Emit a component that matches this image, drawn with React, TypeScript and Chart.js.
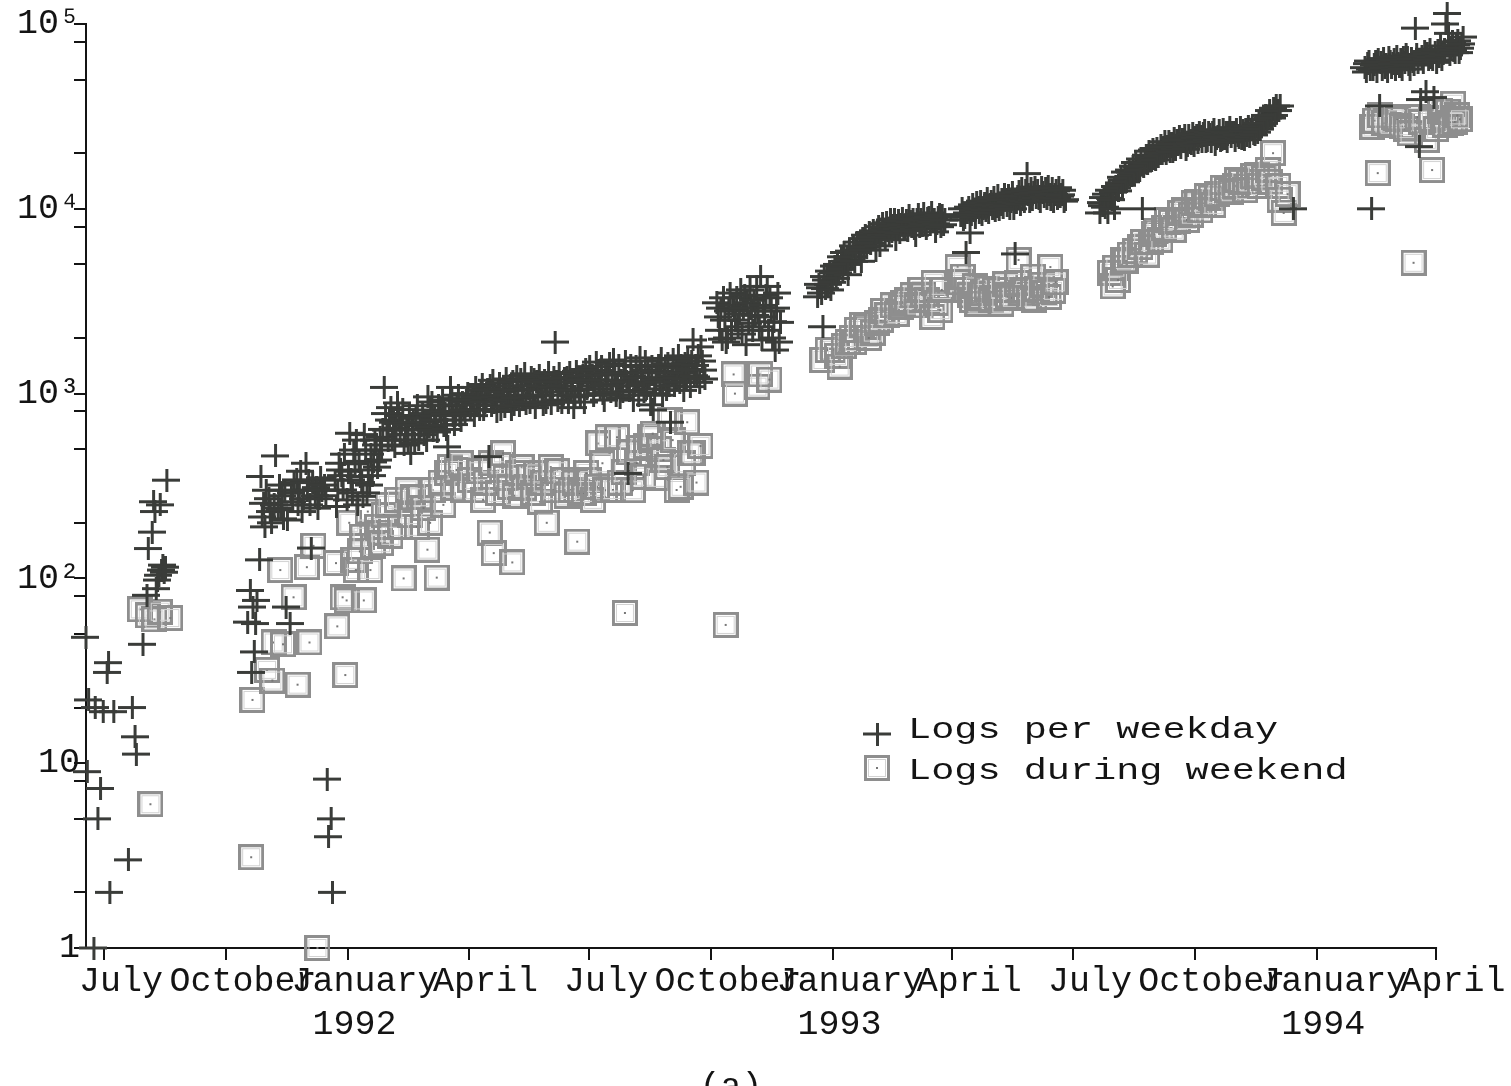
import React, { useEffect, useRef } from "react";
import { Chart, registerables } from "chart.js";

Chart.register(...registerables);

// x values: days counted from 1 July 1991
const tickDays = [0, 92, 184, 275, 366, 458, 550, 640, 731, 823, 915, 1005];
const tickMonths = ["July", "October", "January", "April", "July", "October", "January", "April", "July", "October", "January", "April"];
const tickYears = ["", "", "1992", "", "", "", "1993", "", "", "", "1994", ""];

const yTickValues = [1, 2, 5, 8, 10, 20, 50, 80, 100, 200, 500, 800, 1000, 2000, 5000, 8000, 10000, 20000, 50000, 80000, 100000];
const yTickLabels: Record<number, string> = { 1: "1", 10: "10", 100: "10²", 1000: "10³", 10000: "10⁴", 100000: "10⁵" };

const seriesLabels = ["Logs per weekday", "Logs during weekend"];

// [day, logs]
const weekday1991: [number, number][] = [
  [-14, 48], [-13, 9], [-12, 22], [-8, 1], [-7, 20], [-5, 5], [-3, 7.3], [-1, 19], [2, 31], [3, 35], [4, 2], [7, 19],
  [18, 3], [21, 20], [23, 13.9], [24, 11.2], [29, 44], [32, 81], [33, 145], [36, 178], [37, 260], [38, 230], [39, 88],
  [40, 98], [41, 104], [42, 250], [43, 111], [44, 118], [45, 108], [46, 115], [47, 340],
  [108, 58], [110, 86], [111, 31], [112, 70], [113, 40], [114, 57], [115, 76], [117, 126], [118, 356], [119, 215],
  [120, 255], [121, 190], [122, 300], [124, 270], [125, 230], [126, 200], [128, 250], [129, 460], [131, 240], [132, 320],
  [133, 235], [134, 280], [135, 210], [136, 300], [137, 70], [138, 207], [140, 57], [141, 290], [142, 260], [143, 330],
  [145, 341], [146, 250], [147, 300], [148, 380], [149, 230], [150, 270], [152, 420], [153, 300], [154, 340], [155, 250],
  [156, 146], [157, 330], [159, 280], [160, 310], [161, 240], [162, 270], [163, 350], [164, 300], [166, 320], [167, 280],
  [168, 8.2], [169, 4.0], [171, 5.0], [172, 2.0], [174, 340], [175, 245], [176, 300], [177, 420], [178, 386], [179, 360],
  [180, 301], [181, 470], [183, 266],
];

const weekday1992: [number, number][] = [
  [184, 380], [185, 610], [186, 341], [187, 290], [188, 495], [189, 417], [190, 560], [191, 250], [192, 430], [193, 356],
  [194, 330], [195, 278], [196, 600], [197, 495], [198, 290], [199, 386], [200, 320], [201, 470], [202, 360], [203, 427],
  [204, 560], [205, 527], [206, 400], [207, 437], [208, 580], [209, 495], [210, 640],
  [211, 1080], [212, 780], [213, 635], [214, 560], [215, 719], [216, 840], [217, 561], [218, 700], [219, 520], [220, 650],
  [221, 890], [222, 760], [223, 600], [224, 690], [225, 820], [226, 527], [227, 600], [228, 675], [229, 560], [230, 760],
  [231, 475], [232, 635], [233, 700], [234, 540], [235, 735], [236, 860], [237, 561], [238, 640], [239, 675], [240, 780],
  [241, 600], [242, 700], [243, 560], [244, 960], [245, 660], [246, 815], [247, 900], [248, 635], [249, 760], [250, 719],
  [251, 620], [252, 860], [253, 795], [254, 720], [255, 920], [256, 675], [257, 780], [258, 640], [259, 515], [260, 860],
  [261, 1080], [262, 940], [263, 760], [264, 680], [265, 800], [266, 870], [267, 980], [268, 760], [269, 719], [270, 900],
  [271, 815], [272, 780], [273, 923], [274, 1000],
  [276, 815], [277, 920], [278, 980], [279, 760], [280, 1080], [281, 870], [282, 960], [283, 820], [284, 1040], [285, 1120],
  [286, 815], [287, 900], [288, 950], [289, 1050], [290, 456], [291, 1100], [292, 860], [293, 1180], [294, 900], [295, 960],
  [296, 800], [297, 1020], [298, 1140], [299, 815], [300, 930], [301, 1060], [302, 850], [303, 1200], [304, 923], [305, 980],
  [306, 1100], [307, 820], [308, 1160], [309, 870], [310, 950], [311, 1240], [312, 1040], [313, 860], [314, 1190], [315, 1050],
  [316, 950], [317, 1280], [318, 880], [319, 1100], [320, 1060], [321, 900], [322, 1220], [323, 960], [324, 1190], [325, 840],
  [326, 1160], [327, 980], [328, 1260], [329, 1100], [330, 980], [331, 870], [332, 1180], [333, 900], [334, 1150], [335, 1300],
  [336, 1020], [337, 880], [338, 1080], [339, 1220], [340, 1900], [341, 1160], [342, 923], [343, 1280], [344, 1100], [345, 900],
  [346, 980], [347, 1200], [348, 1060], [349, 1220], [350, 900], [351, 1300], [352, 1040], [353, 1150], [354, 840], [355, 960],
  [356, 1320], [357, 1150], [358, 1050], [359, 980], [360, 1180], [361, 1250], [362, 900], [363, 1350], [364, 1060], [365, 1150],
  [366, 1400], [367, 1190], [368, 1260], [369, 980], [370, 1100], [371, 1480], [372, 1340], [373, 1180], [374, 1060], [375, 1400],
  [376, 1000], [377, 923], [378, 1300], [379, 1120], [380, 1260], [381, 1450], [382, 1020], [383, 1180], [384, 1520], [385, 1280],
  [386, 980], [387, 1100], [388, 1420], [389, 950], [390, 1180], [391, 1020], [392, 1300], [393, 1500], [394, 1160], [395, 370],
  [396, 1040], [397, 1420], [398, 1250], [399, 923], [400, 1100], [401, 1400], [402, 1220], [403, 980], [404, 1560], [405, 1300],
  [406, 1120], [407, 1020], [408, 1500], [409, 1060], [410, 1340], [411, 1220], [412, 870], [413, 1400], [414, 815], [415, 1000],
  [416, 1190], [417, 1320], [418, 1420], [419, 1150], [420, 1550], [421, 980], [422, 1200], [423, 1300], [424, 1050], [425, 1450],
  [426, 1100], [427, 700], [428, 1250], [429, 1520], [430, 1100], [431, 1380], [432, 1220], [433, 1600], [434, 1150], [435, 1420],
  [436, 1300], [437, 1040], [438, 1450], [439, 1200], [440, 1560], [441, 1350], [442, 1090], [443, 1500], [444, 1950], [445, 1250],
  [446, 1420], [447, 1230], [448, 1600], [449, 1150], [450, 1790], [451, 1500], [452, 1340], [453, 1200],
  [462, 3100], [463, 2600], [464, 2200], [465, 2900], [466, 1970], [467, 3300], [468, 2500], [469, 1900], [470, 2000], [471, 2800],
  [472, 3500], [473, 2200], [474, 3000], [475, 2830], [476, 2500], [477, 3300], [478, 2300], [479, 2700], [480, 3640], [481, 2100],
  [482, 2900], [483, 3400], [484, 1840], [485, 3100], [486, 2400], [487, 3640], [488, 2900], [489, 2200], [490, 3200], [491, 2650],
  [492, 3800], [493, 2800], [494, 2300], [495, 4300], [496, 1950], [497, 3000], [498, 2600], [499, 3400], [500, 3800], [501, 2200],
  [502, 3300], [503, 2800], [504, 2000], [505, 2450], [506, 1720], [507, 2900], [508, 3500], [509, 1900], [510, 2430],
  [538, 3340], [539, 3900], [540, 3740], [541, 3500], [542, 2300], [543, 4300], [544, 3700], [545, 4120], [546, 3900], [547, 4600],
  [548, 3640], [549, 4000],
];

const weekday1993: [number, number][] = [
  [550, 4500], [551, 4900], [552, 4200], [553, 5000], [554, 4500], [555, 4800], [556, 5500], [557, 4700], [558, 5800], [559, 5200],
  [560, 5000], [561, 4400], [562, 5900], [563, 5290], [564, 5500], [565, 6300], [566, 5200], [567, 5980], [568, 6600], [569, 5800],
  [570, 6140], [571, 5200], [572, 6900], [573, 6000], [574, 7200], [575, 6200], [576, 6570], [577, 7400], [578, 6500], [579, 7000],
  [580, 7600], [581, 6800], [582, 5980], [583, 7500], [584, 8000], [585, 6300], [586, 7200], [587, 8300], [588, 7700], [589, 7000],
  [590, 8400], [591, 7600], [592, 7200], [593, 8700], [594, 7500], [595, 8100], [596, 8800], [597, 6800], [598, 7800], [599, 8600],
  [600, 7400], [601, 8200], [602, 8900], [603, 7900], [604, 7700], [605, 8600], [606, 7600], [607, 9200], [608, 8500], [609, 8000],
  [610, 8800], [611, 7800], [612, 7200], [613, 8700], [614, 9300], [615, 8000], [616, 8700], [617, 8100], [618, 9400], [619, 8300],
  [620, 7800], [621, 8900], [622, 9000], [623, 8200], [624, 9500], [625, 8500], [626, 8800], [627, 7500], [628, 8300], [629, 9000],
  [630, 9300], [631, 8000], [632, 9200], [633, 8200], [634, 8700],
  [646, 9200], [647, 10000], [648, 8700], [649, 9000], [650, 5800], [651, 9500], [652, 10200], [653, 7400], [654, 9300], [655, 10500],
  [656, 9800], [657, 9000], [658, 10800], [659, 10100], [660, 9600], [661, 11000], [662, 9300], [663, 10000], [664, 10700], [665, 9800],
  [666, 11300], [667, 9500], [668, 10500], [669, 11000], [670, 10000], [671, 11500], [672, 9800], [673, 10300], [674, 11800], [675, 9900],
  [676, 10500], [677, 11200], [678, 10200], [679, 12000], [680, 11200], [681, 10400], [682, 11800], [683, 10000], [684, 10900], [685, 12200],
  [686, 10000], [687, 5700], [688, 10800], [689, 11700], [690, 12400], [691, 10600], [692, 12800], [693, 11200], [694, 11000], [695, 12500],
  [696, 15500], [697, 12000], [698, 10900], [699, 12900], [700, 11200], [701, 12200], [702, 13100], [703, 11500], [704, 12600], [705, 11400],
  [706, 11000], [707, 13000], [708, 12300], [709, 11600], [710, 12800], [711, 11300], [712, 13200], [713, 11900], [714, 11200], [715, 12900],
  [716, 11000], [717, 12000], [718, 12500], [719, 11400], [720, 13000], [721, 11700], [722, 11900], [723, 12600], [724, 11000], [725, 11200],
  [751, 9500], [752, 10800], [753, 10400], [754, 11500], [755, 10200], [756, 12000], [757, 9500], [758, 12600], [759, 11400], [760, 11200],
  [761, 12300], [762, 10000], [763, 13200], [764, 13000], [765, 12500], [766, 13800], [767, 14800], [768, 13400], [769, 14300], [770, 15800],
  [771, 14000], [772, 14700], [773, 16200], [774, 15800], [775, 15200], [776, 17000], [777, 15600], [778, 17800], [779, 16800], [780, 16000],
  [781, 16200], [782, 18600], [783, 10000], [784, 17000], [785, 17900], [786, 19500], [787, 17600], [788, 20500], [789, 19000], [790, 18200],
  [791, 20800], [792, 18800], [793, 18400], [794, 21200], [795, 19200], [796, 20000], [797, 22000], [798, 19800], [799, 21500], [800, 23000],
  [801, 20000], [802, 21600], [803, 23000], [804, 20500], [805, 22500], [806, 20400], [807, 24000], [808, 21000], [809, 23500], [810, 22300],
  [811, 24500], [812, 21500], [813, 23800], [814, 23600], [815, 24800], [816, 21000], [817, 22000], [818, 25000], [819, 22800], [820, 22500],
  [821, 25500], [822, 22000], [823, 24200], [824, 25000], [825, 22800], [826, 26000], [827, 24500], [828, 23000], [829, 25500], [830, 26500],
  [831, 23100], [832, 23500], [833, 26000], [834, 25100], [835, 23000], [836, 25800], [837, 26800], [838, 22300], [839, 24000], [840, 24500],
  [841, 26500], [842, 23500], [843, 23600], [844, 27000], [845, 24000], [846, 26000], [847, 23000], [848, 25800], [849, 27500], [850, 24500],
  [851, 26000], [852, 25800], [853, 23500], [854, 27000], [855, 25000], [856, 24200], [857, 27500], [858, 24000], [859, 26500], [860, 23600],
  [861, 27000], [862, 25000], [863, 28000], [864, 24500], [865, 27000], [866, 27500], [867, 25500], [868, 25100], [869, 28000], [870, 26000],
  [871, 29000], [872, 27000], [873, 30500], [874, 28700], [875, 29000], [876, 32000], [877, 30300], [878, 31000], [879, 34000], [880, 31500],
  [881, 31000], [882, 35000], [883, 32000], [884, 36000], [885, 34000], [886, 34000], [887, 36000], [897, 10000],
];

const weekday1994: [number, number][] = [
  [951, 58000], [952, 55000], [953, 61000], [954, 63000], [955, 57000], [956, 10000], [957, 56400], [958, 60000], [959, 62500], [960, 55500],
  [961, 64000], [962, 36000], [963, 62000], [964, 57000], [965, 65000], [966, 58000], [967, 60000], [968, 55000], [969, 66000], [970, 62500],
  [971, 58000], [972, 61000], [973, 64000], [974, 56500], [975, 67000], [976, 61000], [977, 58500], [978, 64000], [979, 57000], [980, 66000],
  [981, 62000], [982, 68000], [983, 66000], [984, 60000], [985, 57000], [986, 65000], [987, 62500], [988, 60000], [989, 95000], [990, 68000],
  [991, 62000], [992, 21700], [993, 39000], [994, 67000], [995, 62000], [996, 71000], [997, 43000], [998, 69000], [999, 64000], [1000, 73000],
  [1001, 66000], [1002, 64000], [1003, 40000], [1004, 70000], [1005, 62000], [1006, 72000], [1007, 67000], [1008, 76000], [1009, 64000],
  [1010, 69000], [1011, 73000], [1012, 100000], [1013, 114000], [1014, 89000], [1015, 68000], [1016, 75000], [1017, 80000], [1018, 72000],
  [1019, 70000], [1020, 77000], [1021, 81000], [1022, 70000], [1023, 74000], [1024, 78000], [1025, 85000],
];

const weekend1991: [number, number][] = [
  [27, 68], [33, 63], [35, 6.0], [38, 60], [42, 66], [50, 61],
  [111, 3.1], [112, 22], [123, 32], [127, 28], [128, 45], [133, 111], [135, 44], [143, 79], [146, 26.6], [153, 115],
  [155, 45], [158, 150], [161, 1.0], [175, 121], [176, 55], [180, 79], [182, 30], [183, 76],
];

const weekend1992: [number, number][] = [
  [185, 200], [188, 126], [190, 111], [193, 140], [195, 168], [196, 76], [199, 230], [201, 111], [203, 150], [206, 190],
  [208, 177], [209, 155], [211, 220], [214, 250], [216, 170], [221, 266], [223, 190], [226, 100], [229, 300], [231, 220],
  [233, 275], [236, 190], [238, 275], [241, 240], [244, 143], [246, 200], [248, 300], [251, 101], [254, 330], [256, 250],
  [259, 372], [261, 400], [263, 310], [266, 386], [269, 420], [271, 300], [276, 341],
  [280, 300], [283, 380], [286, 266], [288, 330], [291, 177], [292, 420], [294, 137], [297, 290], [299, 410], [301, 475],
  [303, 350], [306, 313], [308, 122], [310, 280], [312, 372], [315, 400], [317, 310], [321, 355], [324, 290], [326, 370],
  [329, 260], [331, 330], [334, 200], [337, 400], [339, 300], [342, 380], [346, 341], [349, 280], [352, 301], [355, 330],
  [357, 158], [359, 290], [362, 290], [364, 372],
  [366, 340], [369, 266], [372, 313], [373, 537], [376, 420], [378, 300], [380, 580], [384, 301], [387, 580], [389, 330],
  [392, 375], [393, 65], [396, 480], [399, 300], [402, 420], [404, 506], [407, 355], [409, 520], [412, 580], [414, 607],
  [417, 350], [419, 500], [422, 437], [425, 400], [427, 719], [429, 560], [432, 301], [435, 313], [437, 420], [440, 700],
  [442, 475], [444, 475], [447, 330], [450, 520],
  [469, 56], [475, 1270], [476, 1000], [493, 1090], [495, 1270], [502, 1190],
  [542, 1520], [546, 1720],
];

const weekend1993: [number, number][] = [
  [550, 1720], [553, 1600], [555, 1400], [558, 1800], [561, 1900], [564, 2000], [566, 1900], [568, 2210], [572, 2350], [575, 2300],
  [577, 2000], [580, 2140], [583, 2410], [586, 2500], [588, 2800], [591, 2650], [595, 3000], [598, 2700], [601, 2940], [603, 3100],
  [606, 3210], [610, 3400], [613, 3000], [616, 3640], [618, 3400], [621, 3210], [625, 2600], [626, 3960], [628, 3100], [631, 2830],
  [632, 3640],
  [644, 4840], [646, 4000], [648, 4300], [651, 3640], [653, 3400], [655, 3210], [657, 3800], [659, 3070], [661, 3300], [663, 3500],
  [666, 3700], [669, 3210], [672, 3640], [674, 3300], [676, 3640], [677, 3070], [680, 3900], [682, 3400], [685, 3300], [689, 3960],
  [690, 5290], [692, 3500], [695, 3640], [698, 3300], [701, 4300], [702, 3210], [704, 3700], [708, 3880], [710, 3500], [713, 3330],
  [714, 4840], [716, 3600], [718, 4000],
  [759, 4500], [761, 3800], [763, 4800], [765, 4120], [769, 5290], [771, 5200], [774, 5650], [778, 5900], [782, 6200], [784, 6600],
  [787, 5650], [790, 6600], [792, 7300], [794, 7600], [797, 6800], [800, 7900], [802, 8700], [805, 8500], [807, 7700], [810, 8600],
  [812, 9500], [815, 9800], [817, 8700], [820, 9300], [822, 10700], [825, 10900], [827, 9800], [830, 10500], [832, 11700], [835, 11500],
  [837, 10500], [840, 12000], [844, 13000], [847, 12600], [850, 12300], [853, 13300], [855, 14300], [858, 14000], [861, 12600], [864, 13900],
  [867, 15000], [870, 15200], [872, 13300], [875, 14600], [878, 16200], [880, 14000], [882, 20000], [886, 13300], [887, 11200], [890, 9500],
  [893, 12000],
];

const weekend1994: [number, number][] = [
  [957, 27800], [959, 30000], [961, 15600], [963, 32000], [966, 29000], [970, 28500], [973, 31500], [976, 30500], [979, 28000],
  [982, 27000], [985, 25600], [988, 5100], [991, 31300], [994, 29500], [998, 23600], [1001, 30300], [1002, 16200], [1005, 27000],
  [1008, 34000], [1010, 31000], [1012, 28500], [1014, 33500], [1016, 29000], [1018, 37000], [1019, 29500], [1021, 32000], [1023, 30500],
];

const FONT = "'Liberation Mono', 'DejaVu Sans Mono', monospace";
const INK = "#141414";

function toPoints(...lists: [number, number][][]) {
  return lists.flat().map(([d, v]) => ({ x: d, y: v }));
}

function makeCross(): HTMLCanvasElement {
  const c = document.createElement("canvas");
  c.width = 28;
  c.height = 23;
  const g = c.getContext("2d")!;
  g.fillStyle = "#3a3c39";
  g.fillRect(0, 10, 28, 3);
  g.fillRect(13, 0, 3, 23);
  return c;
}

function makeBox(): HTMLCanvasElement {
  const c = document.createElement("canvas");
  c.width = 26;
  c.height = 26;
  const g = c.getContext("2d")!;
  g.strokeStyle = "#8e8e8e";
  g.lineWidth = 3;
  g.strokeRect(1.5, 1.5, 23, 23);
  g.strokeStyle = "#d2d2d2";
  g.lineWidth = 1;
  g.strokeRect(4.5, 4.5, 17, 17);
  g.fillStyle = "#777777";
  g.fillRect(12, 12, 2, 2);
  return c;
}

const framePlugin = {
  id: "frame",
  beforeDatasetsDraw(chart: any) {
    const { ctx, chartArea, scales } = chart;
    const top = scales.y.getPixelForValue(yTickValues[yTickValues.length - 1]);
    const right = scales.x.getPixelForValue(tickDays[tickDays.length - 1]);
    ctx.save();
    ctx.strokeStyle = INK;
    ctx.lineWidth = 2;
    ctx.beginPath();
    ctx.moveTo(chartArea.left, top - 1);
    ctx.lineTo(chartArea.left, chartArea.bottom);
    ctx.lineTo(right + 1, chartArea.bottom);
    ctx.stroke();
    ctx.restore();
  },
  afterDraw(chart: any) {
    const { ctx } = chart;
    const markY = [734, 768];
    const baseY = [738, 779];
    ctx.save();
    chart.data.datasets.forEach((ds: any, i: number) => {
      const img = ds.pointStyle as HTMLCanvasElement;
      ctx.drawImage(img, 877 - img.width / 2, markY[i] - img.height / 2);
      ctx.save();
      ctx.translate(908, baseY[i]);
      ctx.scale(1.285, 1);
      ctx.font = `30px ${FONT}`;
      ctx.fillStyle = INK;
      ctx.textAlign = "left";
      ctx.textBaseline = "alphabetic";
      ctx.fillText(ds.label, 0, 0);
      ctx.restore();
    });
    ctx.font = `35px ${FONT}`;
    ctx.fillStyle = INK;
    ctx.textAlign = "center";
    ctx.textBaseline = "alphabetic";
    ctx.fillText("(a)", 731, 1097);
    ctx.restore();
  },
};

export default function App() {
  const ref = useRef<HTMLCanvasElement>(null);

  useEffect(() => {
    document.body.style.margin = "0";
    const canvas = ref.current!;
    const cross = makeCross();
    const box = makeBox();
    const tickFont = { family: FONT, size: 35, lineHeight: 1.23 };

    const chart = new Chart(canvas, {
      type: "scatter",
      data: {
        datasets: [
          {
            label: seriesLabels[0],
            data: toPoints(weekday1991, weekday1992, weekday1993, weekday1994),
            pointStyle: cross as any,
            pointRadius: 4,
            pointHoverRadius: 4,
            clip: false as any,
          },
          {
            label: seriesLabels[1],
            data: toPoints(weekend1991, weekend1992, weekend1993, weekend1994),
            pointStyle: box as any,
            pointRadius: 4,
            pointHoverRadius: 4,
            clip: false as any,
          },
        ],
      },
      options: {
        animation: false,
        responsive: false,
        events: [],
        layout: { padding: { left: 0, right: 41.8, top: 8, bottom: 0 } },
        plugins: { legend: { display: false }, tooltip: { enabled: false }, title: { display: false } },
        scales: {
          x: {
            type: "linear",
            min: -13.6,
            max: 1030,
            bounds: "data",
            afterBuildTicks: (s: any) => {
              s.ticks = tickDays.map((v) => ({ value: v }));
            },
            afterFit: (s: any) => {
              s.height = 138;
              s.paddingLeft = 0;
              s.paddingRight = 0;
            },
            ticks: {
              autoSkip: false,
              maxRotation: 0,
              minRotation: 0,
              padding: 0,
              labelOffset: 17,
              color: INK,
              font: tickFont,
              callback: (v: any) => {
                const i = tickDays.indexOf(Number(v));
                if (i < 0) return "";
                return tickYears[i] ? [tickMonths[i], tickYears[i] + " "] : tickMonths[i];
              },
            },
            grid: {
              display: true,
              drawOnChartArea: false,
              drawTicks: true,
              tickLength: 12,
              color: INK,
              tickColor: INK,
              lineWidth: 2,
              tickWidth: 2,
            },
            border: { display: false },
          },
          y: {
            type: "logarithmic",
            min: 1,
            max: 122000,
            bounds: "data",
            afterBuildTicks: (s: any) => {
              s.ticks = yTickValues.map((v) => ({ value: v }));
            },
            afterFit: (s: any) => {
              s.width = 86;
              s.paddingTop = 0;
              s.paddingBottom = 0;
            },
            ticks: {
              autoSkip: false,
              padding: -6,
              color: INK,
              font: tickFont,
              callback: (v: any) => yTickLabels[Number(v)] ?? "",
            },
            grid: {
              display: true,
              drawOnChartArea: false,
              drawTicks: true,
              tickLength: 12,
              color: INK,
              tickColor: INK,
              lineWidth: 2,
              tickWidth: 2,
            },
            border: { display: false },
          },
        },
      } as any,
      plugins: [framePlugin],
    });

    return () => chart.destroy();
  }, []);

  return (
    <div style={{ position: "relative", width: 1511, height: 1086, background: "#ffffff" }}>
      <canvas ref={ref} width={1511} height={1086} style={{ display: "block" }} />
    </div>
  );
}
